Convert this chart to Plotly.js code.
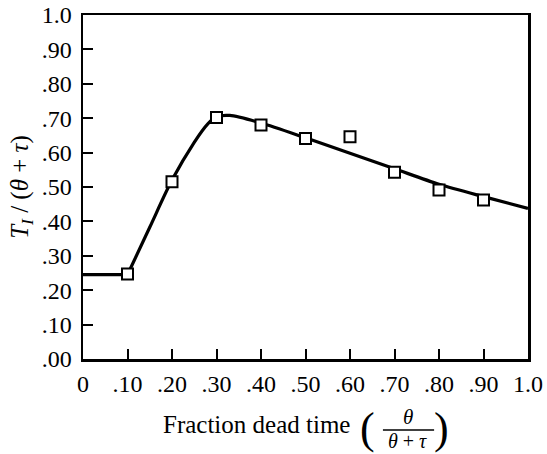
<!DOCTYPE html>
<html>
<head>
<meta charset="utf-8">
<script src="https://cdn.plot.ly/plotly-3.0.1.min.js"></script>
<style>html,body{margin:0;padding:0;background:#fff;}#chart{width:547px;height:454px;}</style>
</head>
<body>
<div id="chart"></div>
<script>
// Measured data points (open squares)
var pointX = [0.10, 0.20, 0.30, 0.40, 0.50, 0.60, 0.70, 0.80, 0.90];
var pointY = [0.247, 0.515, 0.702, 0.680, 0.641, 0.646, 0.543, 0.491, 0.462];

// Fitted curve: flat segment, then smooth curve
var flatX = [0.0, 0.10];
var flatY = [0.245, 0.245];
var curveX = [0.10, 0.15, 0.20, 0.25, 0.28, 0.30, 0.33, 0.40, 0.50, 0.60, 0.70, 0.80, 0.90, 1.00];
var curveY = [0.245, 0.383, 0.520, 0.630, 0.683, 0.704, 0.708, 0.686, 0.643, 0.598, 0.553, 0.508, 0.472, 0.438];

var xTickVals = [0, 0.1, 0.2, 0.3, 0.4, 0.5, 0.6, 0.7, 0.8, 0.9, 1.0];
var xTickText = ["0", ".10", ".20", ".30", ".40", ".50", ".60", ".70", ".80", ".90", "1.0"];
var yTickVals = [0, 0.1, 0.2, 0.3, 0.4, 0.5, 0.6, 0.7, 0.8, 0.9, 1.0];
var yTickText = [".00", ".10", ".20", ".30", ".40", ".50", ".60", ".70", ".80", ".90", "1.0"];

var serif = "Liberation Serif, Times New Roman, serif";

var traces = [
  {x: flatX, y: flatY, mode: "lines", line: {color: "#000", width: 3.2}, hoverinfo: "skip", showlegend: false},
  {x: curveX, y: curveY, mode: "lines", line: {color: "#000", width: 3.2, shape: "spline", smoothing: 0.8}, hoverinfo: "skip", showlegend: false},
  {x: pointX, y: pointY, mode: "markers", marker: {symbol: "square", size: 11, color: "#fff", line: {color: "#000", width: 2}}, showlegend: false}
];

var layout = {
  width: 547, height: 454,
  margin: {l: 83, r: 19, t: 15, b: 95},
  paper_bgcolor: "#fff", plot_bgcolor: "#fff",
  font: {family: serif, color: "#000", size: 24},
  xaxis: {
    range: [0, 1.0], tickvals: xTickVals, ticktext: xTickText,
    ticks: "inside", ticklen: 10, tickwidth: 2, tickcolor: "#000",
    showline: true, linewidth: 2.5, linecolor: "#000", mirror: true,
    showgrid: false, zeroline: false, fixedrange: true,
    tickfont: {family: serif, size: 24},
    ticklabelstandoff: 2
  },
  yaxis: {
    range: [0, 1.0], tickvals: yTickVals, ticktext: yTickText,
    ticks: "inside", ticklen: 10, tickwidth: 2, tickcolor: "#000",
    showline: true, linewidth: 2.5, linecolor: "#000", mirror: true,
    showgrid: false, zeroline: false, fixedrange: true,
    tickfont: {family: serif, size: 24},
    ticklabelstandoff: 4,
    title: {text: "<i>T<sub>I</sub></i> / (<i>θ</i> + <i>τ</i>)", font: {family: serif, size: 25}, standoff: 6}
  },
  annotations: [
    {xref: "paper", yref: "paper", x: 0.39, y: 0, yshift: -65, text: "Fraction dead time", showarrow: false, font: {family: serif, size: 25}, xanchor: "center", yanchor: "middle"},
    {xref: "paper", yref: "paper", x: 0.640, y: 0, yshift: -69, text: "(", showarrow: false, font: {family: serif, size: 44}, xanchor: "center", yanchor: "middle"},
    {xref: "paper", yref: "paper", x: 0.806, y: 0, yshift: -69, text: ")", showarrow: false, font: {family: serif, size: 44}, xanchor: "center", yanchor: "middle"},
    {xref: "paper", yref: "paper", x: 0.730, y: 0, yshift: -58, text: "<i>θ</i>", showarrow: false, font: {family: serif, size: 21}, xanchor: "center", yanchor: "middle"},
    {xref: "paper", yref: "paper", x: 0.730, y: 0, yshift: -82, text: "<i>θ</i> + <i>τ</i>", showarrow: false, font: {family: serif, size: 20}, xanchor: "center", yanchor: "middle"}
  ],
  shapes: [
    {type: "line", xref: "paper", yref: "paper", x0: 0.674, x1: 0.789, y0: 0, y1: 0, ysizemode: "pixel", yanchor: 0, line: {color: "#000", width: 1.5}}
  ]
};
// place fraction bar in pixels below the axis
layout.shapes[0].y0 = -71;
layout.shapes[0].y1 = -71;

Plotly.newPlot("chart", traces, layout, {displayModeBar: false, staticPlot: true});
</script>
</body>
</html>
